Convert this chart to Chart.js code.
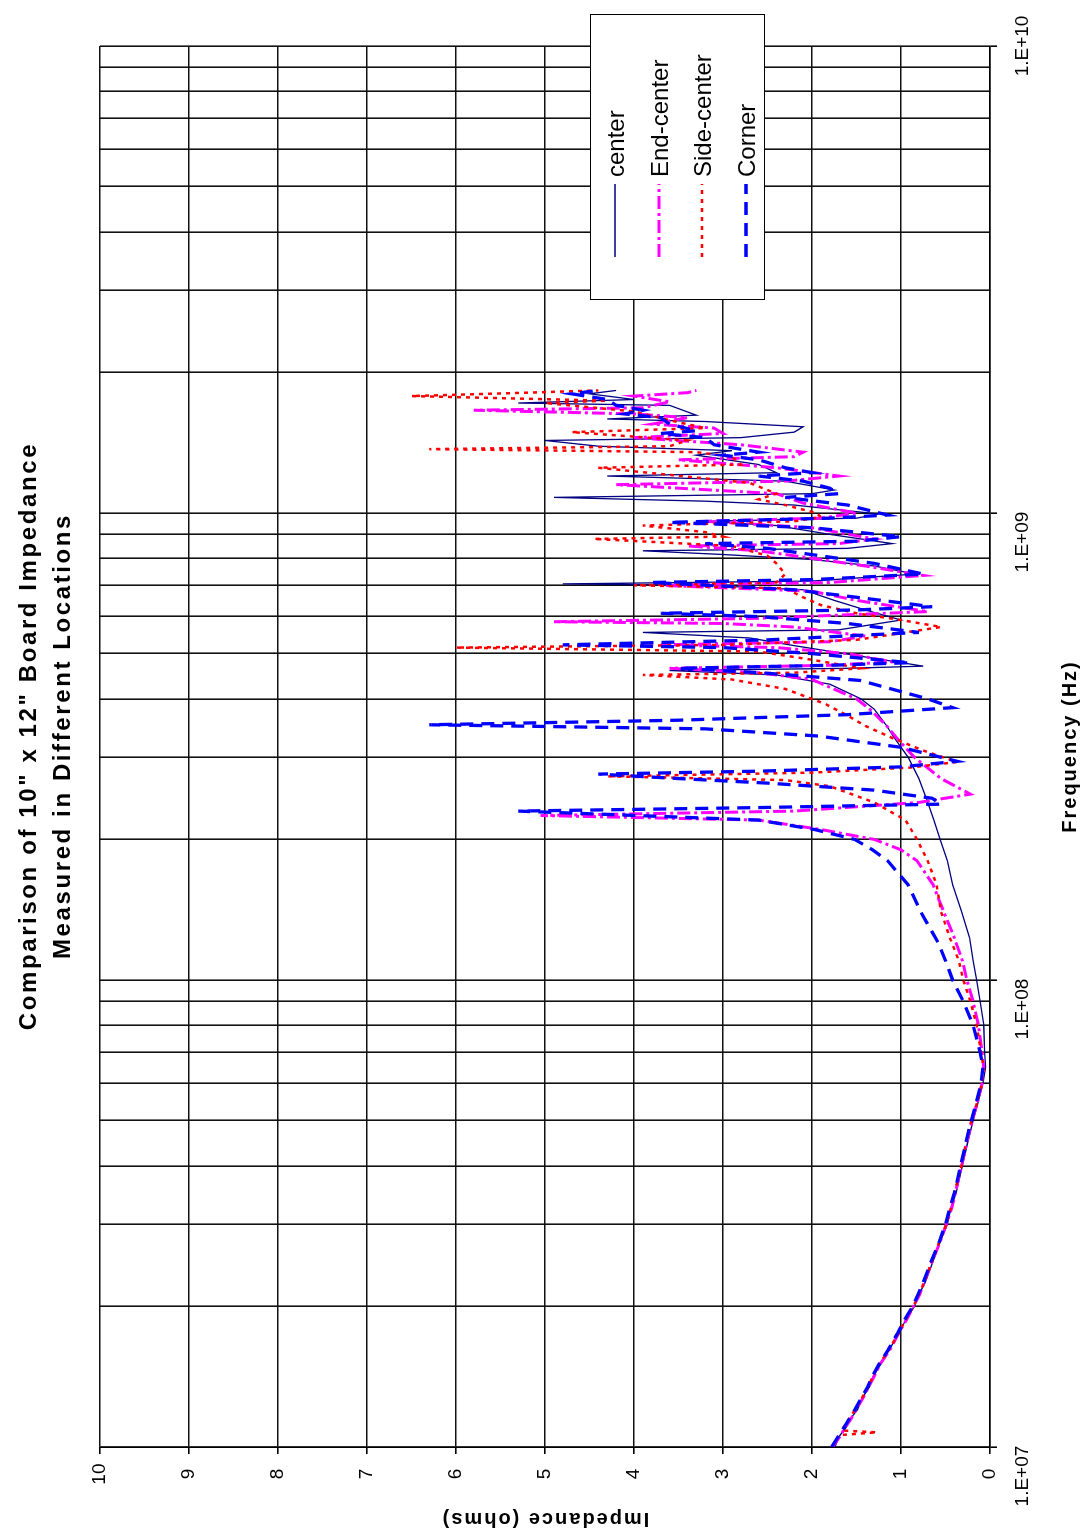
<!DOCTYPE html>
<html>
<head>
<meta charset="utf-8">
<script src="https://cdn.jsdelivr.net/npm/chart.js@4.4.1/dist/chart.umd.min.js"></script>
<style>
  html, body { margin: 0; padding: 0; background: #fff; }
  #page { position: relative; width: 1085px; height: 1539px; overflow: hidden; }
  /* the chart is laid out flat (1539 x 1085) and turned a quarter turn to the left */
  #rot { position: absolute; left: 0; top: 0; width: 1539px; height: 1085px;
         transform-origin: 0 0; transform: translateY(1539px) rotate(-90deg); }
  #rot canvas { position: absolute; left: 0; top: 0; }
  .txt { position: absolute; font-family: "Liberation Sans", Arial, sans-serif; color: #000; white-space: nowrap; }
  #title { left: 403px; width: 800px; top: 11px; text-align: center; font-weight: bold;
           font-size: 24px; line-height: 34px; letter-spacing: 2.6px; }
  #xTitle { left: 492px; width: 601px; top: 1057px; text-align: center; font-weight: bold;
            font-size: 20px; line-height: 24px; letter-spacing: 2px; }
  #yTitle { left: -131px; width: 300px; top: 533px; text-align: center; font-weight: bold;
            font-size: 20px; line-height: 24px; letter-spacing: 2px; transform: rotate(-90deg); }
  #legend { position: absolute; left: 1239px; top: 590px; width: 286px; height: 175px;
            border: 1.5px solid #000; background: #fff; box-sizing: border-box; }
  #legend svg { position: absolute; left: 0; top: 0; }
  #legend .lbl { position: absolute; left: 122px; height: 28px; font-size: 24px; line-height: 28px; }
</style>
</head>
<body>
<div id="page">
  <div id="rot">
    <canvas id="chart" width="1539" height="1085"></canvas>
    <div id="title" class="txt">Comparison of 10" x 12" Board Impedance<br>Measured in Different Locations</div>
    <div id="xTitle" class="txt">Frequency (Hz)</div>
    <div id="yTitle" class="txt">Impedance (ohms)</div>
    <div id="legend" class="txt"></div>
  </div>
</div>
<script>
// tick labels on the frequency axis
const freqTickValues = [1e7, 1e8, 1e9, 1e10];
const freqTickLabels = ['1.E+07', '1.E+08', '1.E+09', '1.E+10'];
const impedanceMin = 0;
const impedanceMax = 10;

const seriesNames = ['center', 'End-center', 'Side-center', 'Corner'];

// [frequency Hz, impedance ohms]
const centerPts = [
  [1.00e7,1.74],[1.05e7,1.70],[1.10e7,1.62],[1.15e7,1.57],[1.20e7,1.49],[1.27e7,1.44],[1.35e7,1.35],
  [1.42e7,1.31],[1.50e7,1.23],[1.62e7,1.13],[1.75e7,1.02],[1.87e7,0.95],[2.00e7,0.85],[2.12e7,0.80],
  [2.25e7,0.73],[2.50e7,0.64],[2.75e7,0.56],[3.00e7,0.48],[3.25e7,0.44],[3.50e7,0.38],[4.00e7,0.31],
  [4.50e7,0.25],[5.00e7,0.19],[5.50e7,0.13],[6.00e7,0.08],[6.50e7,0.05],[7.00e7,0.06],[8.00e7,0.07],
  [9.00e7,0.11],[1.00e8,0.15],[1.10e8,0.19],[1.23e8,0.23],[1.40e8,0.32],[1.60e8,0.42],[1.80e8,0.48],
  [2.00e8,0.56],[2.20e8,0.63],[2.43e8,0.71],[2.70e8,0.80],[3.00e8,0.92],[3.33e8,1.09],[3.50e8,1.16],
  [3.80e8,1.30],[4.00e8,1.45],[4.30e8,1.80],[4.50e8,2.40],[4.60e8,3.60],[4.65e8,1.60],[4.70e8,0.75],
  [4.90e8,1.35],[5.20e8,2.20],[5.40e8,2.70],[5.55e8,3.90],[5.62e8,1.70],[5.90e8,1.00],[6.20e8,1.40],
  [6.50e8,1.75],[6.85e8,2.10],[7.00e8,3.20],[7.05e8,4.80],[7.15e8,2.00],[7.40e8,0.84],[7.70e8,1.30],
  [7.95e8,2.00],[8.15e8,3.00],[8.30e8,3.90],[8.40e8,1.60],[8.60e8,1.10],[9.00e8,1.80],[9.40e8,2.40],
  [9.60e8,3.20],[9.75e8,1.50],[9.95e8,1.25],[1.04e9,2.20],[1.06e9,3.20],[1.08e9,4.90],[1.10e9,2.00],
  [1.12e9,1.75],[1.17e9,2.30],[1.20e9,4.30],[1.22e9,2.40],[1.27e9,2.60],[1.33e9,3.30],[1.36e9,2.90],
  [1.39e9,4.40],[1.43e9,5.00],[1.45e9,2.80],[1.49e9,2.20],[1.53e9,2.10],[1.57e9,3.20],[1.59e9,4.30],
  [1.62e9,3.30],[1.70e9,3.60],[1.72e9,5.30],[1.75e9,4.00],[1.80e9,4.50],[1.83e9,4.20]
];

const endCenterPts = [
  [1.00e7,1.77],[1.05e7,1.69],[1.10e7,1.63],[1.15e7,1.56],[1.20e7,1.51],[1.27e7,1.43],[1.35e7,1.36],
  [1.42e7,1.30],[1.50e7,1.24],[1.62e7,1.12],[1.75e7,1.03],[1.87e7,0.94],[2.00e7,0.86],[2.12e7,0.79],
  [2.25e7,0.74],[2.50e7,0.65],[2.75e7,0.56],[3.00e7,0.49],[3.25e7,0.43],[3.50e7,0.39],[4.00e7,0.32],
  [4.50e7,0.26],[5.00e7,0.20],[5.50e7,0.14],[6.00e7,0.09],[6.50e7,0.07],[7.00e7,0.09],[8.00e7,0.13],
  [9.00e7,0.19],[1.00e8,0.26],[1.10e8,0.31],[1.23e8,0.40],[1.40e8,0.52],[1.60e8,0.64],[1.80e8,0.82],
  [1.90e8,1.00],[2.00e8,1.30],[2.10e8,1.90],[2.20e8,2.60],[2.25e8,5.05],[2.30e8,2.20],[2.40e8,0.80],
  [2.50e8,0.22],[2.70e8,0.55],[3.00e8,0.85],[3.30e8,1.05],[3.50e8,1.16],[3.80e8,1.35],[4.00e8,1.50],
  [4.40e8,2.00],[4.55e8,2.60],[4.65e8,3.60],[4.72e8,1.80],[4.80e8,1.10],[5.00e8,1.60],[5.15e8,2.40],
  [5.22e8,3.70],[5.30e8,1.80],[5.45e8,1.40],[5.70e8,2.20],[5.80e8,3.00],[5.85e8,4.90],[5.95e8,2.60],
  [6.15e8,0.70],[6.50e8,1.50],[6.80e8,2.00],[7.00e8,3.70],[7.10e8,1.80],[7.35e8,0.75],[7.70e8,1.40],
  [8.00e8,2.00],[8.30e8,2.60],[8.50e8,3.40],[8.60e8,1.70],[8.80e8,1.30],[9.30e8,2.00],[9.60e8,3.20],
  [9.75e8,1.90],[1.00e9,1.50],[1.05e9,2.10],[1.10e9,2.40],[1.15e9,4.20],[1.17e9,2.30],[1.20e9,1.70],
  [1.25e9,2.40],[1.30e9,3.50],[1.32e9,2.20],[1.35e9,2.10],[1.40e9,2.80],[1.45e9,4.00],[1.48e9,3.00],
  [1.52e9,3.10],[1.55e9,3.80],[1.60e9,3.40],[1.63e9,4.00],[1.66e9,5.80],[1.68e9,3.90],[1.73e9,3.60],
  [1.78e9,4.00],[1.81e9,3.40],[1.83e9,3.30]
];

const sideCenterPts = [
  [1.00e7,1.78],[1.04e7,1.72],[1.06e7,1.70],[1.075e7,1.27],[1.085e7,1.67],[1.15e7,1.58],[1.20e7,1.52],
  [1.27e7,1.44],[1.35e7,1.37],[1.42e7,1.31],[1.50e7,1.25],[1.62e7,1.13],[1.75e7,1.03],[1.87e7,0.95],
  [2.00e7,0.86],[2.12e7,0.80],[2.25e7,0.74],[2.50e7,0.65],[2.75e7,0.57],[3.00e7,0.49],[3.25e7,0.44],
  [3.50e7,0.40],[4.00e7,0.32],[4.50e7,0.27],[5.00e7,0.21],[5.50e7,0.14],[6.00e7,0.09],[6.50e7,0.07],
  [7.00e7,0.10],[8.00e7,0.15],[9.00e7,0.22],[1.00e8,0.30],[1.10e8,0.35],[1.23e8,0.45],[1.40e8,0.55],
  [1.60e8,0.60],[1.80e8,0.70],[2.00e8,0.82],[2.20e8,0.95],[2.40e8,1.30],[2.60e8,1.80],[2.68e8,2.30],
  [2.73e8,4.30],[2.78e8,2.00],[2.85e8,0.90],[2.93e8,0.37],[3.10e8,0.75],[3.30e8,1.10],[3.50e8,1.40],
  [3.70e8,1.62],[3.90e8,1.85],[4.20e8,2.30],[4.40e8,2.90],[4.50e8,3.90],[4.55e8,2.20],[4.65e8,1.45],
  [4.85e8,2.00],[5.05e8,2.60],[5.15e8,6.00],[5.22e8,3.00],[5.35e8,1.50],[5.70e8,0.55],[5.90e8,1.00],
  [6.10e8,1.50],[6.35e8,1.90],[6.60e8,2.10],[6.90e8,2.30],[7.00e8,4.00],[7.10e8,2.40],[7.40e8,2.30],
  [7.80e8,2.40],[8.10e8,2.50],[8.50e8,2.90],[8.80e8,4.45],[8.90e8,3.00],[9.10e8,3.20],[9.40e8,3.90],
  [9.60e8,2.20],[9.80e8,1.90],[1.00e9,1.95],[1.04e9,2.30],[1.07e9,2.60],[1.10e9,2.40],[1.16e9,2.70],
  [1.25e9,4.40],[1.27e9,2.80],[1.32e9,2.90],[1.35e9,3.30],[1.37e9,6.30],[1.39e9,3.60],[1.43e9,3.40],
  [1.49e9,4.70],[1.52e9,3.20],[1.58e9,3.60],[1.65e9,4.00],[1.72e9,5.00],[1.74e9,4.30],[1.78e9,6.50],
  [1.81e9,5.20],[1.83e9,4.40]
];

const cornerPts = [
  [1.00e7,1.78],[1.05e7,1.71],[1.10e7,1.64],[1.15e7,1.58],[1.20e7,1.52],[1.27e7,1.45],[1.35e7,1.37],
  [1.42e7,1.32],[1.50e7,1.25],[1.62e7,1.14],[1.75e7,1.04],[1.87e7,0.96],[2.00e7,0.87],[2.12e7,0.81],
  [2.25e7,0.75],[2.50e7,0.66],[2.75e7,0.57],[3.00e7,0.50],[3.25e7,0.45],[3.50e7,0.40],[4.00e7,0.33],
  [4.50e7,0.27],[5.00e7,0.21],[5.50e7,0.15],[6.00e7,0.10],[6.50e7,0.08],[7.00e7,0.11],[8.00e7,0.19],
  [9.00e7,0.30],[1.00e8,0.42],[1.10e8,0.50],[1.20e8,0.58],[1.40e8,0.78],[1.60e8,0.92],[1.80e8,1.15],
  [1.90e8,1.32],[2.00e8,1.52],[2.10e8,1.97],[2.20e8,2.60],[2.30e8,5.30],[2.34e8,2.60],[2.38e8,0.55],
  [2.45e8,0.65],[2.55e8,1.30],[2.64e8,2.50],[2.70e8,3.50],[2.76e8,4.40],[2.80e8,2.60],[2.86e8,1.00],
  [2.94e8,0.37],[3.15e8,1.00],[3.33e8,1.93],[3.45e8,3.20],[3.52e8,6.30],[3.60e8,3.50],[3.70e8,1.60],
  [3.83e8,0.42],[4.00e8,0.70],[4.38e8,1.46],[4.55e8,2.58],[4.65e8,3.50],[4.72e8,1.80],[4.78e8,0.90],
  [5.00e8,2.00],[5.15e8,3.00],[5.22e8,4.80],[5.35e8,2.50],[5.55e8,0.80],[5.80e8,1.60],[6.00e8,2.60],
  [6.10e8,3.70],[6.20e8,1.50],[6.30e8,0.65],[6.60e8,1.50],[6.85e8,2.20],[7.10e8,3.80],[7.20e8,2.00],
  [7.40e8,0.75],[7.80e8,1.30],[8.40e8,2.50],[8.60e8,3.20],[8.70e8,1.50],[8.90e8,1.00],[9.30e8,2.00],
  [9.55e8,3.60],[9.75e8,1.80],[9.90e8,1.15],[1.04e9,1.60],[1.08e9,2.30],[1.10e9,1.70],[1.13e9,1.80],
  [1.17e9,2.10],[1.20e9,2.60],[1.22e9,2.00],[1.25e9,2.30],[1.30e9,2.60],[1.33e9,3.00],[1.35e9,2.60],
  [1.40e9,3.10],[1.45e9,3.20],[1.48e9,3.70],[1.50e9,3.30],[1.55e9,3.60],[1.60e9,3.70],[1.63e9,4.10],
  [1.66e9,3.90],[1.70e9,4.20],[1.75e9,4.30],[1.80e9,4.70],[1.83e9,4.40]
];

const SERIES_STYLES = [
  { color: '#000080', width: 1.3, dash: [] },
  { color: '#ff00ff', width: 3, dash: [13, 4, 3, 4] },
  { color: '#ff0000', width: 2.5, dash: [4, 5] },
  { color: '#0000ff', width: 3.3, dash: [13, 8] }
];

const FONT = '"Liberation Sans", Arial, sans-serif';

function toXY(pts) {
  return pts.map(p => ({ x: p[0], y: p[1] }));
}

// 1..9 per decade so every log grid line is drawn
function logTicks() {
  const ticks = [];
  for (let d = 0; d < freqTickValues.length - 1; d++) {
    for (let m = 1; m <= 9; m++) ticks.push({ value: m * freqTickValues[d] });
  }
  ticks.push({ value: freqTickValues[freqTickValues.length - 1] });
  return ticks;
}

// labels are centred; the trailing spaces push all but the last one so they end on their tick
function freqLabel(v) {
  const i = freqTickValues.indexOf(v);
  if (i < 0) return '';
  const last = i === freqTickValues.length - 1;
  return last ? freqTickLabels[i] : freqTickLabels[i] + '\u00a0'.repeat(11);
}

function buildLegend() {
  const rows = [24, 68, 111, 155];
  let svg = '<svg width="286" height="175">';
  let labels = '';
  seriesNames.forEach((name, i) => {
    const s = SERIES_STYLES[i];
    svg += `<line x1="42" x2="115" y1="${rows[i]}" y2="${rows[i]}" stroke="${s.color}" stroke-width="${s.width}" stroke-dasharray="${s.dash.join(' ')}"/>`;
    labels += `<div class="lbl" style="top:${rows[i] - 13}px">${name}</div>`;
  });
  svg += '</svg>';
  document.getElementById('legend').innerHTML = svg + labels;
}

const allPts = [centerPts, endCenterPts, sideCenterPts, cornerPts];

new Chart(document.getElementById('chart'), {
  type: 'scatter',
  data: {
    datasets: allPts.map((pts, i) => ({
      label: seriesNames[i],
      data: toXY(pts),
      showLine: true,
      borderColor: SERIES_STYLES[i].color,
      borderWidth: SERIES_STYLES[i].width,
      borderDash: SERIES_STYLES[i].dash,
      pointRadius: 0,
      tension: 0,
      order: 3 - i
    }))
  },
  options: {
    responsive: false,
    animation: false,
    devicePixelRatio: 1,
    layout: { padding: { top: 100, right: 46, bottom: 0, left: 0 } },
    plugins: {
      legend: { display: false },
      tooltip: { enabled: false },
      title: { display: false }
    },
    scales: {
      x: {
        type: 'logarithmic',
        min: freqTickValues[0],
        max: freqTickValues[freqTickValues.length - 1],
        afterBuildTicks: s => { s.ticks = logTicks(); },
        afterFit: s => { s.height = 95; },
        grid: {
          color: '#111',
          lineWidth: 1.6,
          tickLength: 7,
          tickColor: c => (c.tick && freqTickValues.includes(c.tick.value)) ? '#000' : 'rgba(0,0,0,0)'
        },
        border: { color: '#000', width: 1.6 },
        ticks: {
          autoSkip: false,
          maxRotation: 0,
          minRotation: 0,
          align: 'center',
          padding: 14,
          color: '#000',
          font: { family: FONT, size: 19 },
          callback: v => freqLabel(v)
        }
      },
      y: {
        min: impedanceMin,
        max: impedanceMax,
        afterFit: s => { s.width = 92; },
        grid: { color: '#111', lineWidth: 1.6, tickLength: 7, tickColor: '#000' },
        border: { color: '#000', width: 1.6 },
        ticks: {
          stepSize: 1,
          padding: 9.5,
          crossAlign: 'center',
          color: '#000',
          font: { family: FONT, size: 19 }
        }
      }
    }
  }
});

buildLegend();
</script>
</body>
</html>
